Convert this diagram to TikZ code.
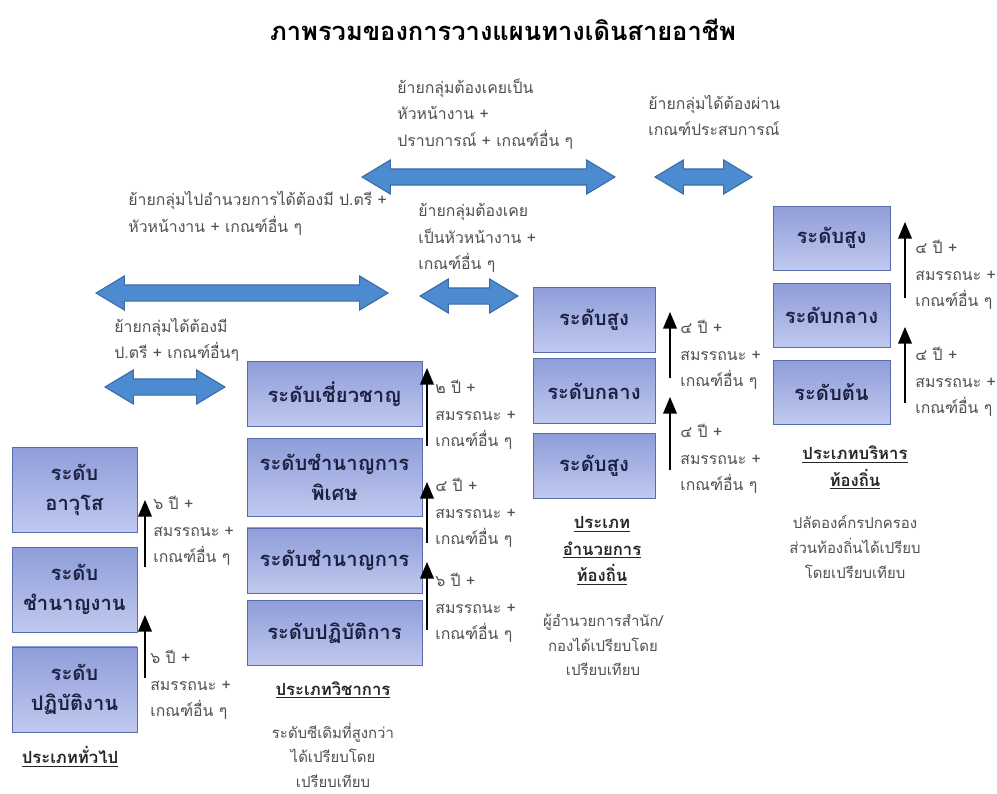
\documentclass[tikz,border=0pt]{standalone}
\usepackage{fontspec}
\setmainfont[Script=Thai]{Loma}
\usetikzlibrary{shapes.arrows, arrows, positioning}
\definecolor{boxtop}{RGB}{143,157,217}
\definecolor{boxbot}{RGB}{192,201,239}
\definecolor{boxedge}{RGB}{88,108,172}
\definecolor{boxtext}{RGB}{28,33,66}
\definecolor{arrowblue}{RGB}{76,139,207}
\definecolor{arrowedge}{RGB}{58,108,168}
\definecolor{notegray}{RGB}{80,80,80}
\tikzstyle{level} = [rectangle, draw=boxedge, top color=boxtop, bottom color=boxbot, text=boxtext, font=\bfseries\fontsize{11.5}{17}\selectfont, align=center, inner sep=0pt]
\tikzstyle{move} = [double arrow, draw=arrowedge, fill=arrowblue, line width=0.6pt, inner xsep=0pt, inner ysep=0.15cm, double arrow head extend=0.18cm, double arrow tip angle=62]
\tikzstyle{note} = [text=notegray, font=\fontsize{9}{15}\selectfont, align=left, inner sep=0pt]
\tikzstyle{group} = [text=black!85, font=\bfseries\fontsize{9.5}{15}\selectfont, align=center, inner sep=0pt]
\tikzstyle{remark} = [text=notegray, font=\fontsize{8.5}{14}\selectfont, align=center, inner sep=0pt]
\tikzstyle{arrow} = [line width=1.2pt, ->, >=triangle 45]

\begin{document}
\begin{tikzpicture}[x=0.02cm, y=-0.02cm]
  \fill[white] (0,0) rectangle (997,794);
  \useasboundingbox (0,0) rectangle (997,794);
  \node (title) at (503,30) {\bfseries\fontsize{14.5}{18}\selectfont ภาพรวมของการวางแผนทางเดินสายอาชีพ};

  % moving between groups
  \node (moveA) [move, minimum height=5.06cm] at (488.5,177) {};
  \node (moveB) [move, minimum height=1.94cm] at (703.5,177) {};
  \node (moveC) [move, minimum height=5.84cm] at (242,293) {};
  \node (moveD) [move, minimum height=1.96cm] at (469,296) {};
  \node (moveE) [move, minimum height=2.4cm] at (165,387) {};
  \node (textA) [note, anchor=west] at (397,114) {ย้ายกลุ่มต้องเคยเป็น\\หัวหน้างาน +\\ปราบการณ์ + เกณฑ์อื่น ๆ};
  \node (textB) [note, anchor=west] at (648,115.5) {ย้ายกลุ่มได้ต้องผ่าน\\เกณฑ์ประสบการณ์};
  \node (textC) [note, anchor=west] at (128,213.5) {ย้ายกลุ่มไปอำนวยการได้ต้องมี ป.ตรี +\\หัวหน้างาน + เกณฑ์อื่น ๆ};
  \node (textD) [note, anchor=west] at (418,238) {ย้ายกลุ่มต้องเคย\\เป็นหัวหน้างาน +\\เกณฑ์อื่น ๆ};
  \node (textE) [note, anchor=west] at (114,340) {ย้ายกลุ่มได้ต้องมี\\ป.ตรี + เกณฑ์อื่นๆ};

  % general
  \node (gen1) [level, minimum width=2.5cm, minimum height=1.7cm] at (74.5,490) {ระดับ\\อาวุโส};
  \node (gen2) [level, minimum width=2.5cm, minimum height=1.7cm, below=0.28cm of gen1] {ระดับ\\ชำนาญงาน};
  \node (gen3) [level, minimum width=2.5cm, minimum height=1.7cm, below=0.28cm of gen2] {ระดับ\\ปฏิบัติงาน};
  \coordinate (g1lo) at (145,567);
  \coordinate (g1hi) at (145,500);
  \coordinate (g2lo) at (145,678);
  \coordinate (g2hi) at (145,615);
  \draw [arrow] (g1lo) -- (g1hi);
  \draw [arrow] (g2lo) -- (g2hi);
  \node (gnote1) [note, anchor=west] at (153,531) {๖ ปี +\\สมรรถนะ +\\เกณฑ์อื่น ๆ};
  \node (gnote2) [note, anchor=west] at (150,685) {๖ ปี +\\สมรรถนะ +\\เกณฑ์อื่น ๆ};
  \node (gengroup) [group] at (70,757) {\underline{ประเภททั่วไป}};

  % academic
  \node (aca1) [level, minimum width=3.5cm, minimum height=1.3cm] at (334.5,394) {ระดับเชี่ยวชาญ};
  \node (aca2) [level, minimum width=3.5cm, minimum height=1.56cm, below=0.22cm of aca1] {ระดับชำนาญการ\\พิเศษ};
  \node (aca3) [level, minimum width=3.5cm, minimum height=1.3cm, below=0.22cm of aca2] {ระดับชำนาญการ};
  \node (aca4) [level, minimum width=3.5cm, minimum height=1.3cm, below=0.14cm of aca3] {ระดับปฏิบัติการ};
  \coordinate (a1lo) at (427,446);
  \coordinate (a1hi) at (427,368);
  \coordinate (a2lo) at (427,543);
  \coordinate (a2hi) at (427,482);
  \coordinate (a3lo) at (427,630);
  \coordinate (a3hi) at (427,562);
  \draw [arrow] (a1lo) -- (a1hi);
  \draw [arrow] (a2lo) -- (a2hi);
  \draw [arrow] (a3lo) -- (a3hi);
  \node (anote1) [note, anchor=west] at (435,415) {๒ ปี +\\สมรรถนะ +\\เกณฑ์อื่น ๆ};
  \node (anote2) [note, anchor=west] at (435,513) {๔ ปี +\\สมรรถนะ +\\เกณฑ์อื่น ๆ};
  \node (anote3) [note, anchor=west] at (435,608) {๖ ปี +\\สมรรถนะ +\\เกณฑ์อื่น ๆ};
  \node (acagroup) [group] at (333,690) {\underline{ประเภทวิชาการ}};
  \node (acaremark) [remark] at (333,755) {ระดับซีเดิมที่สูงกว่า\\ได้เปรียบโดย\\เปรียบเทียบ};

  % director
  \node (dir1) [level, minimum width=2.44cm, minimum height=1.3cm] at (594,319.5) {ระดับสูง};
  \node (dir2) [level, minimum width=2.44cm, minimum height=1.3cm, below=0.12cm of dir1] {ระดับกลาง};
  \node (dir3) [level, minimum width=2.44cm, minimum height=1.3cm, below=0.18cm of dir2] {ระดับสูง};
  \coordinate (d1lo) at (670,378);
  \coordinate (d1hi) at (670,312);
  \coordinate (d2lo) at (670,470);
  \coordinate (d2hi) at (670,397);
  \draw [arrow] (d1lo) -- (d1hi);
  \draw [arrow] (d2lo) -- (d2hi);
  \node (dnote1) [note, anchor=west] at (680,355) {๔ ปี +\\สมรรถนะ +\\เกณฑ์อื่น ๆ};
  \node (dnote2) [note, anchor=west] at (680,459) {๔ ปี +\\สมรรถนะ +\\เกณฑ์อื่น ๆ};
  \node (dirgroup) [group] at (602,551) {\underline{ประเภท}\\\underline{อำนวยการ}\\\underline{ท้องถิ่น}};
  \node (dirremark) [remark] at (603,645) {ผู้อำนวยการสำนัก/\\กองได้เปรียบโดย\\เปรียบเทียบ};

  % local administration
  \node (loc1) [level, minimum width=2.34cm, minimum height=1.28cm] at (831.5,238) {ระดับสูง};
  \node (loc2) [level, minimum width=2.34cm, minimum height=1.28cm, below=0.26cm of loc1] {ระดับกลาง};
  \node (loc3) [level, minimum width=2.34cm, minimum height=1.28cm, below=0.24cm of loc2] {ระดับต้น};
  \coordinate (l1lo) at (905,298);
  \coordinate (l1hi) at (905,222);
  \coordinate (l2lo) at (905,403);
  \coordinate (l2hi) at (905,327);
  \draw [arrow] (l1lo) -- (l1hi);
  \draw [arrow] (l2lo) -- (l2hi);
  \node (lnote1) [note, anchor=west] at (915,275) {๔ ปี +\\สมรรถนะ +\\เกณฑ์อื่น ๆ};
  \node (lnote2) [note, anchor=west] at (915,382) {๔ ปี +\\สมรรถนะ +\\เกณฑ์อื่น ๆ};
  \node (locgroup) [group] at (855,468) {\underline{ประเภทบริหาร}\\\underline{ท้องถิ่น}};
  \node (locremark) [remark] at (855,547) {ปลัดองค์กรปกครอง\\ส่วนท้องถิ่นได้เปรียบ\\โดยเปรียบเทียบ};
\end{tikzpicture}
\end{document}
